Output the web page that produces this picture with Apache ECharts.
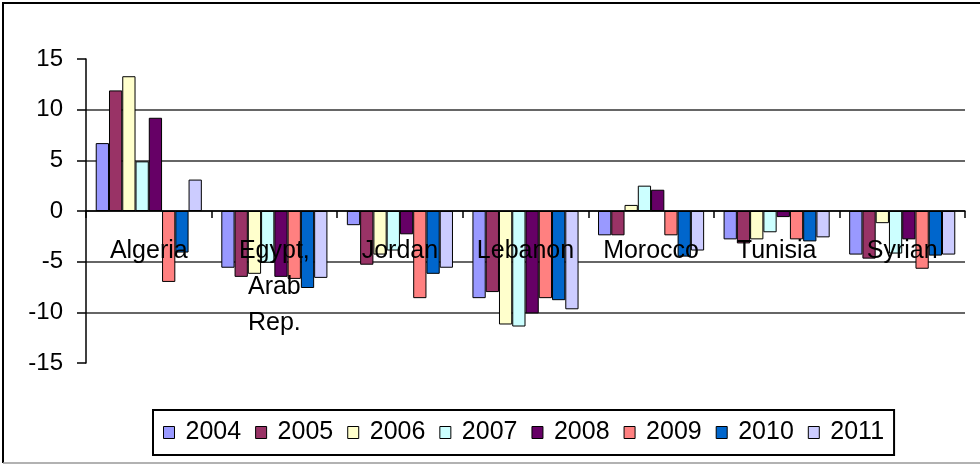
<!DOCTYPE html>
<html>
<head>
<meta charset="utf-8">
<script src="https://cdn.jsdelivr.net/npm/echarts@6/dist/echarts.min.js"></script>
<style>
html,body{margin:0;padding:0;background:#fff;}
#chart{width:980px;height:465px;}
</style>
</head>
<body>
<div id="chart"></div>
<script>
var categories = ['Algeria', 'Egypt,\nArab\nRep.', 'Jordan', 'Lebanon', 'Morocco', 'Tunisia', 'Syrian'];
var years = ['2004', '2005', '2006', '2007', '2008', '2009', '2010', '2011'];
var yTicks = [-15, -10, -5, 0, 5, 10, 15];

var v2004 = [6.7, -5.6, -1.4, -8.6, -2.4, -2.8, -4.3];
var v2005 = [11.9, -6.5, -5.3, -8.0, -2.4, -3.2, -4.7];
var v2006 = [13.3, -6.2, -4.3, -11.2, 0.6, -2.8, -1.2];
var v2007 = [4.9, -5.1, -3.9, -11.4, 2.5, -2.1, -4.2];
var v2008 = [9.2, -6.5, -2.3, -10.1, 2.1, -0.6, -2.8];
var v2009 = [-7.0, -6.7, -8.6, -8.6, -2.4, -2.8, -5.7];
var v2010 = [-4.1, -7.6, -6.2, -8.8, -4.5, -3.0, -4.4];
var v2011 = [3.1, -6.6, -5.6, -9.7, -3.9, -2.6, -4.3];

var seriesValues = [v2004, v2005, v2006, v2007, v2008, v2009, v2010, v2011];
var colors = ['#9999FF', '#993366', '#FFFFCC', '#CCFFFF', '#660066', '#FF8080', '#0066CC', '#CCCCFF'];

var FONT = '"Liberation Sans", Arial, sans-serif';

var GRID_TOP = 59, GRID_H = 304;
var yMin = yTicks[0], yMax = yTicks[yTicks.length - 1];
// pixel distance from grid bottom up to the zero line
var zeroOffset = GRID_H * (0 - yMin) / (yMax - yMin);

var series = years.map(function (y, i) {
  return {
    name: y,
    type: 'bar',
    data: seriesValues[i],
    barGap: '0%',
    barCategoryGap: '15.5%',
    itemStyle: { color: colors[i], borderColor: '#000', borderWidth: 1 }
  };
});

var chart = echarts.init(document.getElementById('chart'), null, { renderer: 'canvas' });
chart.setOption({
  animation: false,
  backgroundColor: '#fff',
  textStyle: { fontFamily: FONT },
  grid: { left: 86, right: 15, top: GRID_TOP, height: GRID_H, outerBoundsMode: 'none', containLabel: false },
  legend: {
    left: 153,
    top: 410,
    orient: 'horizontal',
    padding: [10, 10, 10, 10],
    borderColor: '#000',
    borderWidth: 2,
    itemWidth: 11,
    itemHeight: 12,
    itemGap: 14,
    icon: 'rect',
    itemStyle: { borderColor: '#000', borderWidth: 1 },
    textStyle: { fontFamily: FONT, fontSize: 25, color: '#000', padding: [0, 0, 0, 6] },
    data: years
  },
  xAxis: {
    type: 'category',
    data: categories,
    z: 10,
    offset: -zeroOffset,
    axisLine: { onZero: false, lineStyle: { color: '#000', width: 1.5 } },
    axisTick: { show: true, length: 7, lineStyle: { color: '#000', width: 1.5 } },
    axisLabel: {
      interval: 0,
      margin: 22,
      fontFamily: FONT,
      fontSize: 25,
      lineHeight: 36,
      color: '#000'
    },
    splitLine: { show: false }
  },
  yAxis: {
    type: 'value',
    min: yMin,
    max: yMax,
    interval: 5,
    axisLine: { show: true, lineStyle: { color: '#000', width: 1.5 } },
    axisTick: { show: true, length: 9, lineStyle: { color: '#000', width: 1.5 } },
    axisLabel: { fontFamily: FONT, fontSize: 24, color: '#000', margin: 23 },
    splitLine: {
      show: true,
      lineStyle: {
        color: ['rgba(0,0,0,0)', '#333', '#333', '#333', '#333', '#333', 'rgba(0,0,0,0)'],
        width: 1.5
      }
    }
  },
  graphic: [
    { type: 'line', shape: { x1: 2, y1: 3, x2: 980, y2: 3 }, style: { stroke: '#000', lineWidth: 2 } },
    { type: 'line', shape: { x1: 3, y1: 2, x2: 3, y2: 463 }, style: { stroke: '#000', lineWidth: 2 } },
    { type: 'line', shape: { x1: 3, y1: 463, x2: 980, y2: 463 }, style: { stroke: '#999', lineWidth: 1.5 } }
  ],
  series: series
});
</script>
</body>
</html>
